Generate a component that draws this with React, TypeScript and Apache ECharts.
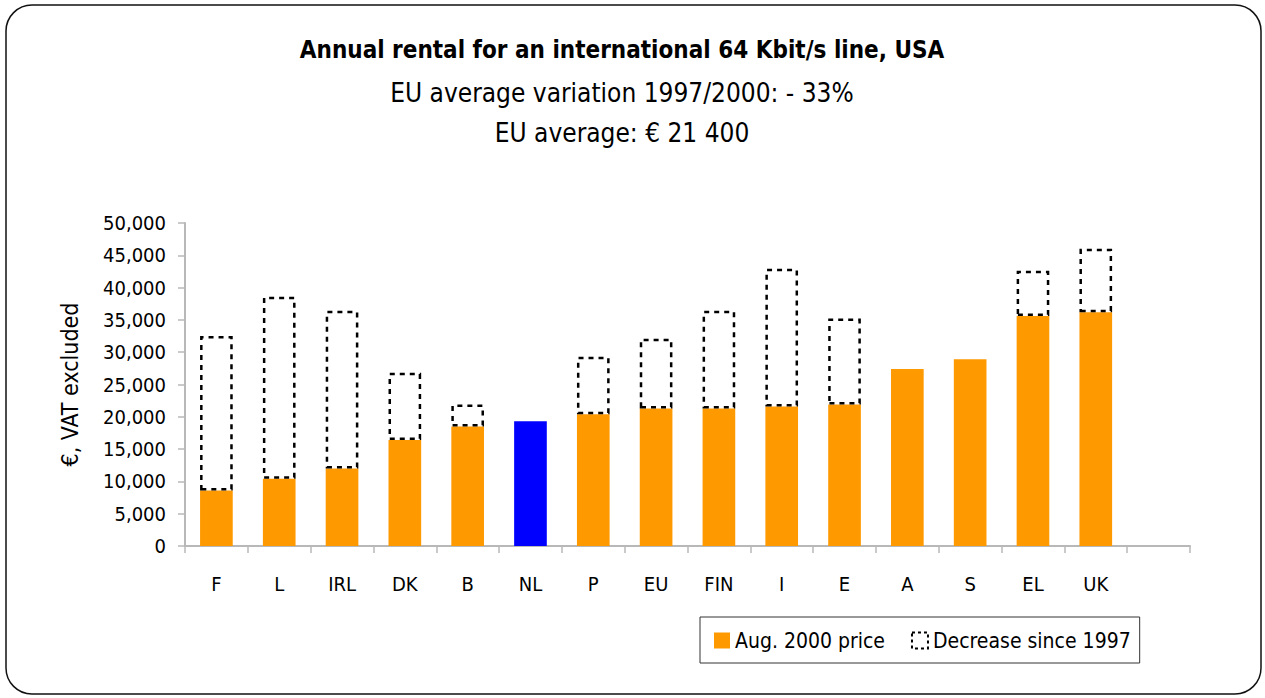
import React, { useEffect, useRef } from "react";
import * as echarts from "echarts";

const categories = ["F", "L", "IRL", "DK", "B", "NL", "P", "EU", "FIN", "I", "E", "A", "S", "EL", "UK", ""];
// August 2000 price (EUR, VAT excluded)
const price2000 = [8600, 10400, 12000, 16400, 18500, 19300, 20400, 21300, 21300, 21600, 21900, 27400, 28900, 35600, 36200, null];
// Decrease since 1997 (EUR)
const decrease = [23900, 28200, 24400, 10400, 3400, null, 8900, 10800, 15100, 21300, 13300, null, null, 7000, 9800, null];
const highlighted = "NL";
const yTicks = [0, 5000, 10000, 15000, 20000, 25000, 30000, 35000, 40000, 45000, 50000];

const FONT = "'Liberation Sans Narrow', 'Arial Narrow', 'DejaVu Sans Condensed', sans-serif";
const ORANGE = "#FF9900";
const BLUE = "#0000FF";

export default function App() {
  const ref = useRef<HTMLDivElement>(null);
  useEffect(() => {
    if (!ref.current) return;
    const chart = echarts.init(ref.current, undefined, { renderer: "svg" });
    chart.setOption({
      animation: false,
      backgroundColor: "#fff",
      textStyle: { fontFamily: FONT },
      graphic: [
        {
          type: "rect",
          shape: { x: 6, y: 5, width: 1255, height: 689, r: 26 },
          style: { fill: "none", stroke: "#111", lineWidth: 1.5 },
          silent: true,
        },
        {
          type: "text",
          x: 622,
          y: 50,
          style: {
            text: "Annual rental for an international 64 Kbit/s line, USA",
            fontFamily: FONT,
            fontSize: 24,
            fontWeight: "bold",
            fill: "#000",
            align: "center",
            verticalAlign: "middle",
          },
        },
        {
          type: "text",
          x: 622,
          y: 93,
          style: {
            text: "EU average variation 1997/2000: - 33%",
            fontFamily: FONT,
            fontSize: 26,
            fill: "#000",
            align: "center",
            verticalAlign: "middle",
          },
        },
        {
          type: "text",
          x: 622,
          y: 133,
          style: {
            text: "EU average: € 21 400",
            fontFamily: FONT,
            fontSize: 26,
            fill: "#000",
            align: "center",
            verticalAlign: "middle",
          },
        },
      ],
      legend: {
        left: 700,
        top: 617,
        orient: "horizontal",
        padding: [13, 9, 12, 14],
        itemGap: 26,
        itemWidth: 16,
        itemHeight: 16,
        borderColor: "#333",
        borderWidth: 1,
        textStyle: { fontFamily: FONT, fontSize: 21, color: "#000" },
        data: [
          { name: "Aug. 2000 price", icon: "rect", itemStyle: { color: ORANGE } },
          {
            name: "Decrease since 1997",
            icon: "rect",
            itemStyle: { color: "transparent", borderColor: "#000", borderType: [3, 3], borderWidth: 2 },
          },
        ],
      },
      grid: { left: 185, right: 75, top: 223, bottom: 152 },
      xAxis: {
        type: "category",
        data: categories,
        boundaryGap: true,
        axisLine: { lineStyle: { color: "#b8b8b8", width: 2 } },
        axisTick: { show: true, length: 7, lineStyle: { color: "#b8b8b8", width: 1.5 } },
        axisLabel: { fontFamily: FONT, fontSize: 20, color: "#000", margin: 28 },
      },
      yAxis: {
        type: "value",
        min: yTicks[0],
        max: yTicks[yTicks.length - 1],
        interval: 5000,
        name: "€, VAT excluded",
        nameLocation: "middle",
        nameGap: 104,
        nameRotate: 90,
        nameTextStyle: { fontFamily: FONT, fontSize: 23, color: "#000" },
        axisLine: { show: true, lineStyle: { color: "#b8b8b8", width: 2 } },
        axisTick: { show: true, length: 7, lineStyle: { color: "#b8b8b8", width: 1.5 } },
        splitLine: { show: false },
        axisLabel: {
          fontFamily: FONT,
          fontSize: 20,
          color: "#000",
          margin: 19,
          formatter: (v: number) => v.toLocaleString("en-US"),
        },
      },
      series: [
        {
          name: "Aug. 2000 price",
          type: "bar",
          stack: "total",
          barWidth: "52%",
          itemStyle: { color: ORANGE },
          data: price2000.map((v, i) =>
            categories[i] === highlighted ? { value: v, itemStyle: { color: BLUE } } : v
          ),
        },
        {
          name: "Decrease since 1997",
          type: "bar",
          stack: "total",
          barWidth: "52%",
          itemStyle: { color: "transparent", borderColor: "#000", borderWidth: 2.5, borderType: [5, 5] },
          data: decrease,
        },
      ],
    });
    return () => chart.dispose();
  }, []);
  return (
    <div
      ref={ref}
      style={{ position: "fixed", left: 0, top: 0, width: 1265, height: 698 }}
    />
  );
}
